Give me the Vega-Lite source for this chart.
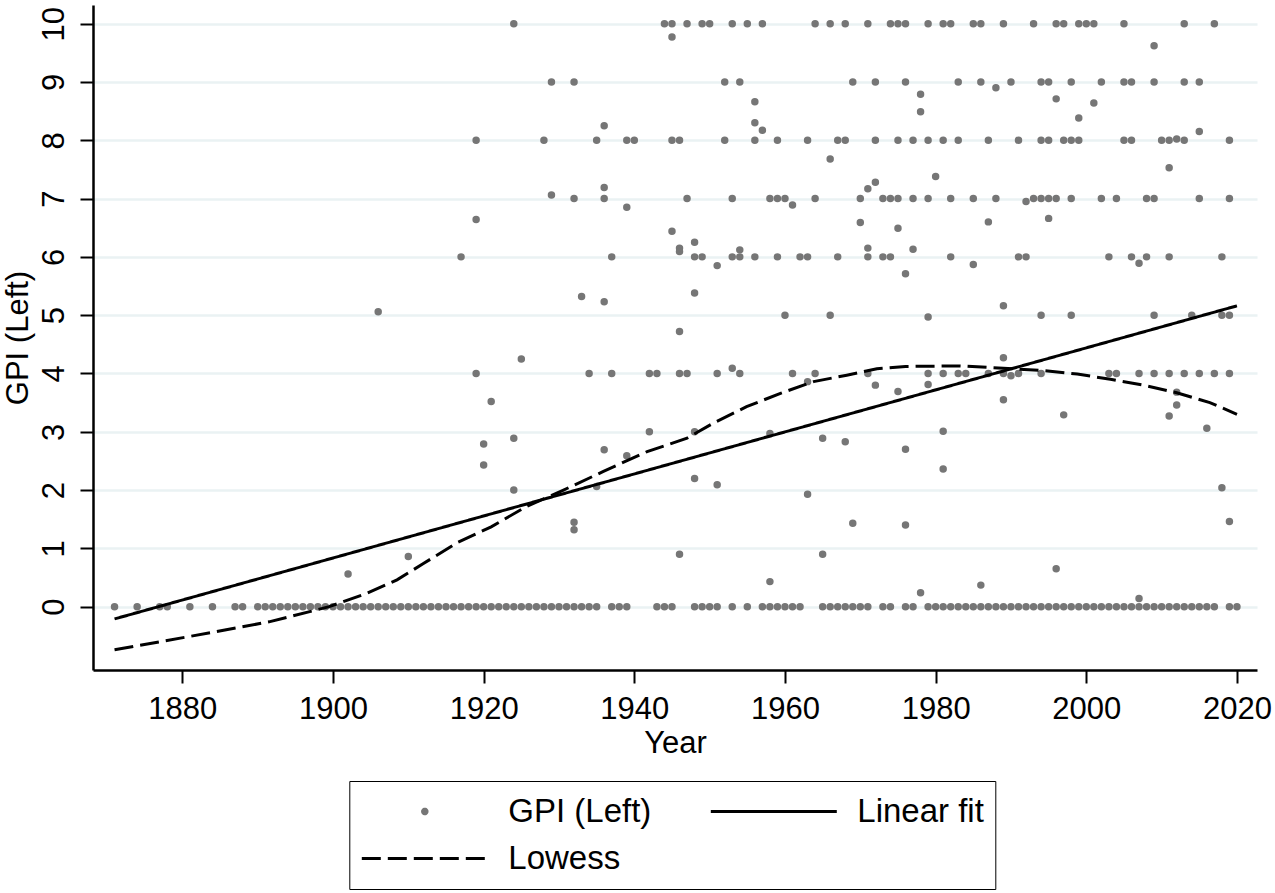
{
 "$schema": "https://vega.github.io/schema/vega-lite/v6.json",
 "width": 1164,
 "height": 665,
 "autosize": {"type": "none"},
 "padding": {"left": 93, "top": 5, "right": 18, "bottom": 223},
 "background": "white",
 "config": {"view": {"stroke": null}, "font": "Liberation Sans"},
 "datasets": {
  "gpi": [
   {"Year":1871,"GPI":0},{"Year":1874,"GPI":0},{"Year":1877,"GPI":0},{"Year":1878,"GPI":0},{"Year":1881,"GPI":0},{"Year":1884,"GPI":0},{"Year":1887,"GPI":0},{"Year":1888,"GPI":0},
   {"Year":1890,"GPI":0},{"Year":1891,"GPI":0},{"Year":1892,"GPI":0},{"Year":1893,"GPI":0},{"Year":1894,"GPI":0},{"Year":1895,"GPI":0},{"Year":1896,"GPI":0},{"Year":1897,"GPI":0},{"Year":1898,"GPI":0},{"Year":1899,"GPI":0},
   {"Year":1900,"GPI":0},{"Year":1901,"GPI":0},{"Year":1902,"GPI":0},{"Year":1903,"GPI":0},{"Year":1904,"GPI":0},{"Year":1905,"GPI":0},{"Year":1906,"GPI":0},{"Year":1907,"GPI":0},{"Year":1908,"GPI":0},{"Year":1909,"GPI":0},
   {"Year":1910,"GPI":0},{"Year":1911,"GPI":0},{"Year":1912,"GPI":0},{"Year":1913,"GPI":0},{"Year":1914,"GPI":0},{"Year":1915,"GPI":0},{"Year":1916,"GPI":0},{"Year":1917,"GPI":0},{"Year":1918,"GPI":0},{"Year":1919,"GPI":0},
   {"Year":1920,"GPI":0},{"Year":1921,"GPI":0},{"Year":1922,"GPI":0},{"Year":1923,"GPI":0},{"Year":1924,"GPI":0},{"Year":1925,"GPI":0},{"Year":1926,"GPI":0},{"Year":1927,"GPI":0},{"Year":1928,"GPI":0},{"Year":1929,"GPI":0},
   {"Year":1930,"GPI":0},{"Year":1931,"GPI":0},{"Year":1932,"GPI":0},{"Year":1933,"GPI":0},{"Year":1934,"GPI":0},{"Year":1935,"GPI":0},{"Year":1937,"GPI":0},{"Year":1938,"GPI":0},{"Year":1939,"GPI":0},
   {"Year":1943,"GPI":0},{"Year":1944,"GPI":0},{"Year":1945,"GPI":0},{"Year":1948,"GPI":0},{"Year":1949,"GPI":0},{"Year":1950,"GPI":0},{"Year":1951,"GPI":0},{"Year":1953,"GPI":0},{"Year":1955,"GPI":0},{"Year":1957,"GPI":0},{"Year":1958,"GPI":0},{"Year":1959,"GPI":0},
   {"Year":1960,"GPI":0},{"Year":1961,"GPI":0},{"Year":1962,"GPI":0},{"Year":1965,"GPI":0},{"Year":1966,"GPI":0},{"Year":1967,"GPI":0},{"Year":1968,"GPI":0},{"Year":1969,"GPI":0},{"Year":1970,"GPI":0},{"Year":1971,"GPI":0},{"Year":1973,"GPI":0},{"Year":1974,"GPI":0},{"Year":1976,"GPI":0},{"Year":1977,"GPI":0},
   {"Year":1979,"GPI":0},{"Year":1980,"GPI":0},{"Year":1981,"GPI":0},{"Year":1982,"GPI":0},{"Year":1983,"GPI":0},{"Year":1984,"GPI":0},{"Year":1985,"GPI":0},{"Year":1986,"GPI":0},{"Year":1987,"GPI":0},{"Year":1988,"GPI":0},{"Year":1989,"GPI":0},
   {"Year":1990,"GPI":0},{"Year":1991,"GPI":0},{"Year":1992,"GPI":0},{"Year":1993,"GPI":0},{"Year":1994,"GPI":0},{"Year":1995,"GPI":0},{"Year":1996,"GPI":0},{"Year":1997,"GPI":0},{"Year":1998,"GPI":0},{"Year":1999,"GPI":0},
   {"Year":2000,"GPI":0},{"Year":2001,"GPI":0},{"Year":2002,"GPI":0},{"Year":2003,"GPI":0},{"Year":2004,"GPI":0},{"Year":2005,"GPI":0},{"Year":2006,"GPI":0},{"Year":2007,"GPI":0},{"Year":2008,"GPI":0},{"Year":2009,"GPI":0},
   {"Year":2010,"GPI":0},{"Year":2011,"GPI":0},{"Year":2012,"GPI":0},{"Year":2013,"GPI":0},{"Year":2014,"GPI":0},{"Year":2015,"GPI":0},{"Year":2016,"GPI":0},{"Year":2017,"GPI":0},{"Year":2019,"GPI":0},{"Year":2020,"GPI":0},
   {"Year":1906,"GPI":5.06},{"Year":1919,"GPI":8},{"Year":1919,"GPI":6.64},{"Year":1917,"GPI":6},{"Year":1919,"GPI":4},{"Year":1921,"GPI":3.52},{"Year":1920,"GPI":2.79},{"Year":1920,"GPI":2.43},{"Year":1910,"GPI":0.86},{"Year":1902,"GPI":0.56},
   {"Year":1924,"GPI":10},{"Year":1944,"GPI":10},{"Year":1945,"GPI":10},{"Year":1947,"GPI":10},{"Year":1949,"GPI":10},{"Year":1950,"GPI":10},{"Year":1953,"GPI":10},{"Year":1955,"GPI":10},{"Year":1957,"GPI":10},{"Year":1964,"GPI":10},{"Year":1966,"GPI":10},{"Year":1968,"GPI":10},{"Year":1971,"GPI":10},{"Year":1974,"GPI":10},{"Year":1975,"GPI":10},{"Year":1976,"GPI":10},{"Year":1979,"GPI":10},{"Year":1981,"GPI":10},{"Year":1982,"GPI":10},{"Year":1985,"GPI":10},{"Year":1986,"GPI":10},{"Year":1989,"GPI":10},{"Year":1993,"GPI":10},{"Year":1996,"GPI":10},{"Year":1997,"GPI":10},{"Year":1999,"GPI":10},{"Year":2000,"GPI":10},{"Year":2001,"GPI":10},{"Year":2005,"GPI":10},{"Year":2013,"GPI":10},{"Year":2017,"GPI":10},
   {"Year":1945,"GPI":9.77},{"Year":2009,"GPI":9.62},
   {"Year":1929,"GPI":9},{"Year":1932,"GPI":9},{"Year":1952,"GPI":9},{"Year":1954,"GPI":9},{"Year":1969,"GPI":9},{"Year":1972,"GPI":9},{"Year":1976,"GPI":9},{"Year":1983,"GPI":9},{"Year":1986,"GPI":9},{"Year":1990,"GPI":9},{"Year":1994,"GPI":9},{"Year":1995,"GPI":9},{"Year":1998,"GPI":9},{"Year":2002,"GPI":9},{"Year":2005,"GPI":9},{"Year":2006,"GPI":9},{"Year":2009,"GPI":9},{"Year":2013,"GPI":9},{"Year":2015,"GPI":9},
   {"Year":1956,"GPI":8.66},{"Year":1936,"GPI":8.25},{"Year":1956,"GPI":8.3},{"Year":1957,"GPI":8.17},{"Year":1988,"GPI":8.9},{"Year":1978,"GPI":8.79},{"Year":1978,"GPI":8.49},{"Year":1996,"GPI":8.71},{"Year":2001,"GPI":8.64},{"Year":1999,"GPI":8.38},
   {"Year":1928,"GPI":8},{"Year":1935,"GPI":8},{"Year":1939,"GPI":8},{"Year":1940,"GPI":8},{"Year":1945,"GPI":8},{"Year":1946,"GPI":8},{"Year":1952,"GPI":8},{"Year":1956,"GPI":8},{"Year":1959,"GPI":8},{"Year":1963,"GPI":8},{"Year":1967,"GPI":8},{"Year":1968,"GPI":8},{"Year":1972,"GPI":8},{"Year":1975,"GPI":8},{"Year":1977,"GPI":8},{"Year":1979,"GPI":8},{"Year":1981,"GPI":8},{"Year":1983,"GPI":8},{"Year":1987,"GPI":8},{"Year":1991,"GPI":8},{"Year":1994,"GPI":8},{"Year":1995,"GPI":8},{"Year":1997,"GPI":8},{"Year":1998,"GPI":8},{"Year":1999,"GPI":8},{"Year":2005,"GPI":8},{"Year":2006,"GPI":8},{"Year":2010,"GPI":8},{"Year":2011,"GPI":8},{"Year":2012,"GPI":8.02},{"Year":2013,"GPI":8},{"Year":2019,"GPI":8},
   {"Year":2015,"GPI":8.15},{"Year":2011,"GPI":7.53},{"Year":1966,"GPI":7.68},
   {"Year":1932,"GPI":7},{"Year":1936,"GPI":7},{"Year":1947,"GPI":7},{"Year":1953,"GPI":7},{"Year":1958,"GPI":7},{"Year":1959,"GPI":7},{"Year":1960,"GPI":7},{"Year":1964,"GPI":7},{"Year":1970,"GPI":7},{"Year":1973,"GPI":7},{"Year":1974,"GPI":7},{"Year":1975,"GPI":7},{"Year":1977,"GPI":7},{"Year":1979,"GPI":7},{"Year":1982,"GPI":7},{"Year":1985,"GPI":7},{"Year":1988,"GPI":7},{"Year":1993,"GPI":7},{"Year":1994,"GPI":7},{"Year":1995,"GPI":7},{"Year":1996,"GPI":7},{"Year":1998,"GPI":7},{"Year":2002,"GPI":7},{"Year":2004,"GPI":7},{"Year":2008,"GPI":7},{"Year":2009,"GPI":7},{"Year":2015,"GPI":7},{"Year":2019,"GPI":7},
   {"Year":1929,"GPI":7.06},{"Year":1936,"GPI":7.19},{"Year":1939,"GPI":6.85},{"Year":1961,"GPI":6.89},{"Year":1970,"GPI":6.59},{"Year":1971,"GPI":7.17},{"Year":1972,"GPI":7.28},{"Year":1992,"GPI":6.95},{"Year":1980,"GPI":7.38},{"Year":1975,"GPI":6.49},{"Year":1987,"GPI":6.6},{"Year":1995,"GPI":6.66},
   {"Year":1937,"GPI":6},{"Year":1948,"GPI":6},{"Year":1949,"GPI":6},{"Year":1953,"GPI":6},{"Year":1954,"GPI":6},{"Year":1956,"GPI":6},{"Year":1959,"GPI":6},{"Year":1962,"GPI":6},{"Year":1963,"GPI":6},{"Year":1967,"GPI":6},{"Year":1971,"GPI":6},{"Year":1973,"GPI":6},{"Year":1974,"GPI":6},{"Year":1982,"GPI":6},{"Year":1991,"GPI":6},{"Year":1992,"GPI":6},{"Year":2003,"GPI":6},{"Year":2006,"GPI":6},{"Year":2008,"GPI":6},{"Year":2011,"GPI":6},{"Year":2018,"GPI":6},
   {"Year":1945,"GPI":6.44},{"Year":1946,"GPI":6.15},{"Year":1946,"GPI":6.09},{"Year":1948,"GPI":6.25},{"Year":1954,"GPI":6.12},{"Year":1951,"GPI":5.85},{"Year":1971,"GPI":6.15},{"Year":1948,"GPI":5.38},{"Year":1933,"GPI":5.32},{"Year":1936,"GPI":5.23},{"Year":1977,"GPI":6.13},{"Year":1976,"GPI":5.71},{"Year":1985,"GPI":5.87},{"Year":2007,"GPI":5.89},
   {"Year":1960,"GPI":5},{"Year":1966,"GPI":5},{"Year":1994,"GPI":5},{"Year":1998,"GPI":5},{"Year":2009,"GPI":5},{"Year":2014,"GPI":5},{"Year":2018,"GPI":5},{"Year":2019,"GPI":5},{"Year":1979,"GPI":4.97},
   {"Year":1989,"GPI":5.16},{"Year":1946,"GPI":4.72},{"Year":1925,"GPI":4.25},{"Year":1989,"GPI":4.27},
   {"Year":1934,"GPI":4},{"Year":1937,"GPI":4},{"Year":1942,"GPI":4},{"Year":1943,"GPI":4},{"Year":1946,"GPI":4},{"Year":1947,"GPI":4},{"Year":1951,"GPI":4},{"Year":1954,"GPI":4},{"Year":1961,"GPI":4},{"Year":1964,"GPI":4},{"Year":1971,"GPI":4},{"Year":1979,"GPI":4},{"Year":1981,"GPI":4},{"Year":1983,"GPI":4},{"Year":1984,"GPI":4},{"Year":1987,"GPI":4},{"Year":1989,"GPI":4},{"Year":1991,"GPI":4},{"Year":1994,"GPI":4},{"Year":2003,"GPI":4},{"Year":2004,"GPI":4},{"Year":2007,"GPI":4},{"Year":2009,"GPI":4},{"Year":2011,"GPI":4},{"Year":2013,"GPI":4},{"Year":2015,"GPI":4},{"Year":2017,"GPI":4},{"Year":2019,"GPI":4},
   {"Year":1953,"GPI":4.09},{"Year":1963,"GPI":3.86},{"Year":1972,"GPI":3.8},{"Year":1990,"GPI":3.96},{"Year":1975,"GPI":3.69},{"Year":1979,"GPI":3.81},{"Year":1989,"GPI":3.55},{"Year":1997,"GPI":3.29},{"Year":2012,"GPI":3.68},{"Year":2012,"GPI":3.46},{"Year":2011,"GPI":3.27},{"Year":2016,"GPI":3.06},
   {"Year":1942,"GPI":3},{"Year":1948,"GPI":3},{"Year":1958,"GPI":2.97},{"Year":1981,"GPI":3.01},
   {"Year":1924,"GPI":2.89},{"Year":1936,"GPI":2.69},{"Year":1939,"GPI":2.59},{"Year":1965,"GPI":2.89},{"Year":1968,"GPI":2.83},{"Year":1976,"GPI":2.7},{"Year":1981,"GPI":2.36},
   {"Year":1924,"GPI":2.0},{"Year":1935,"GPI":2.06},{"Year":1948,"GPI":2.2},{"Year":1951,"GPI":2.09},{"Year":1963,"GPI":1.93},{"Year":2018,"GPI":2.04},
   {"Year":1932,"GPI":1.45},{"Year":1932,"GPI":1.32},{"Year":1969,"GPI":1.43},{"Year":1976,"GPI":1.4},{"Year":2019,"GPI":1.46},
   {"Year":1946,"GPI":0.9},{"Year":1965,"GPI":0.9},{"Year":1958,"GPI":0.43},{"Year":1996,"GPI":0.65},{"Year":1986,"GPI":0.37},{"Year":1978,"GPI":0.24},{"Year":2007,"GPI":0.14}
  ],
  "linear": [
   {"Year":1871,"GPI":-0.21},{"Year":2020,"GPI":5.16}
  ],
  "lowess": [
   {"Year":1871,"GPI":-0.74},{"Year":1881,"GPI":-0.51},{"Year":1891.5,"GPI":-0.26},{"Year":1899.5,"GPI":0.0},{"Year":1904.5,"GPI":0.23},{"Year":1908.5,"GPI":0.46},{"Year":1912,"GPI":0.74},{"Year":1916.5,"GPI":1.1},{"Year":1921,"GPI":1.37},{"Year":1925.7,"GPI":1.72},{"Year":1930.6,"GPI":2.0},{"Year":1935.9,"GPI":2.32},{"Year":1941.7,"GPI":2.66},{"Year":1947,"GPI":2.89},{"Year":1950.5,"GPI":3.15},{"Year":1954.9,"GPI":3.43},{"Year":1959.4,"GPI":3.66},{"Year":1963.8,"GPI":3.86},{"Year":1968.2,"GPI":3.97},{"Year":1972.2,"GPI":4.08},{"Year":1976,"GPI":4.12},{"Year":1983.3,"GPI":4.13},{"Year":1989,"GPI":4.09},{"Year":1994.3,"GPI":4.05},{"Year":1998.8,"GPI":3.99},{"Year":2003.2,"GPI":3.9},{"Year":2007.6,"GPI":3.8},{"Year":2012,"GPI":3.67},{"Year":2016.4,"GPI":3.5},{"Year":2020,"GPI":3.3}
  ]
 },
 "encoding": {
  "x": {"field": "Year", "type": "quantitative",
   "scale": {"domain": [1868.14, 2022.66], "nice": false, "zero": false},
   "axis": {"values": [1880,1900,1920,1940,1960,1980,2000,2020], "format": "d", "title": "Year", "grid": false,
    "domainColor": "black", "domainWidth": 2.5, "tickColor": "black", "tickWidth": 2, "tickSize": 13,
    "labelFontSize": 31, "labelColor": "black", "labelPadding": 11, "labelFlush": false, "labelOverlap": false,
    "titleFontSize": 31, "titleFontWeight": "normal", "titleColor": "black", "titlePadding": 4}},
  "y": {"field": "GPI", "type": "quantitative",
   "scale": {"domain": [-1.086, 10.32], "nice": false, "zero": false},
   "axis": {"values": [0,1,2,3,4,5,6,7,8,9,10], "title": "GPI (Left)", "grid": true, "gridColor": "#EAF2F3", "gridWidth": 2.5,
    "domainColor": "black", "domainWidth": 2.5, "tickColor": "black", "tickWidth": 2, "tickSize": 13,
    "labelAngle": -90, "labelAlign": "center", "labelBaseline": "bottom", "labelFontSize": 31, "labelColor": "black", "labelPadding": 10,
    "labelFlush": false, "labelOverlap": false,
    "titleFontSize": 31, "titleFontWeight": "normal", "titleColor": "black", "titlePadding": 4}}
 },
 "layer": [
  {"data": {"name": "gpi"}, "mark": {"type": "point", "filled": true, "opacity": 1, "stroke": "#767676", "strokeWidth": 3},
   "encoding": {
    "color": {"datum": "GPI (Left)",
     "scale": {"domain": ["GPI (Left)", "Linear fit", "Lowess"], "range": ["#767676", "black", "black"]},
     "legend": {"orient": "none", "legendX": 256.3, "legendY": 776, "direction": "horizontal", "columns": 2, "title": null,
      "strokeColor": "black", "fillColor": "white", "padding": 11,
      "labelFontSize": 33, "labelColor": "black", "labelFont": "Liberation Sans", "labelLimit": 400,
      "labelOffset": 19, "columnPadding": 57, "rowPadding": 8, "clipHeight": 39, "symbolStrokeWidth": 3,
      "encode": {"legend": {"strokeWidth": {"value": 2}}}}},
    "shape": {"datum": "GPI (Left)",
     "scale": {"type": "ordinal", "domain": ["GPI (Left)", "Linear fit", "Lowess"], "range": ["circle", "M-1,0L1,0", "M-1,0L1,0"]},
     "legend": {"title": null}},
    "size": {"datum": "GPI (Left)",
     "scale": {"type": "ordinal", "domain": ["GPI (Left)", "Linear fit", "Lowess"], "range": [20, 15876, 15876]},
     "legend": {"title": null}}
   }},
  {"data": {"name": "linear"}, "mark": {"type": "line", "strokeWidth": 3},
   "encoding": {
    "color": {"datum": "Linear fit"},
    "strokeDash": {"datum": "Linear fit",
     "scale": {"type": "ordinal", "domain": ["GPI (Left)", "Linear fit", "Lowess"], "range": [[1, 0], [1, 0], [19, 7]]},
     "legend": {"title": null}}
   }},
  {"data": {"name": "lowess"}, "mark": {"type": "line", "strokeWidth": 3},
   "encoding": {
    "color": {"datum": "Lowess"},
    "strokeDash": {"datum": "Lowess"}
   }}
 ]
}
